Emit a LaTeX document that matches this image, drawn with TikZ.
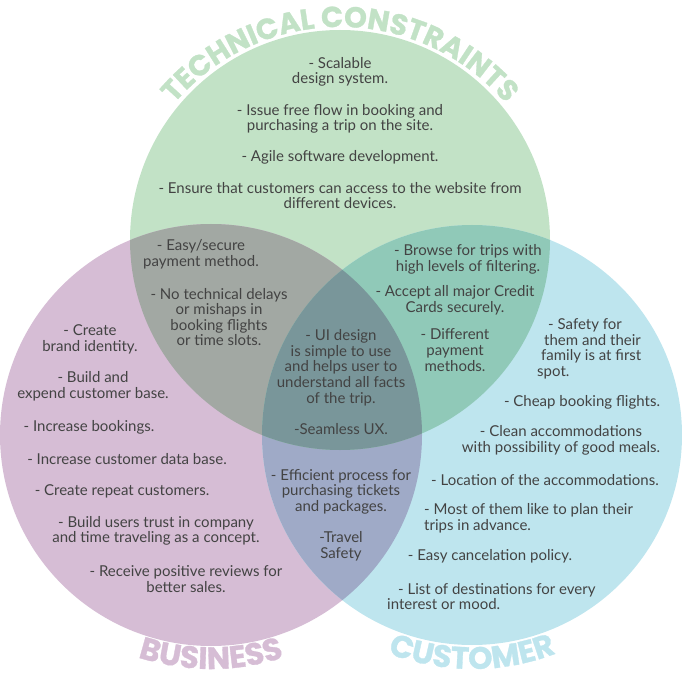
\documentclass[tikz,border=0pt]{standalone}
\usepackage{fontspec}
\setmainfont{Lato}
\newfontfamily\titlefont{Poppins}[BoldFeatures={FakeBold=1}]
\usepackage{tikz}
\usetikzlibrary{decorations.text}

\definecolor{tcgreen}{HTML}{C2E2C6}
\definecolor{bspink}{HTML}{D6BDD5}
\definecolor{cublue}{HTML}{BEE5EE}
\definecolor{gpmix}{HTML}{A2A8A3}
\definecolor{gbmix}{HTML}{90C9B8}
\definecolor{pbmix}{HTML}{9FAAC7}
\definecolor{allmix}{HTML}{79969A}
\definecolor{txtgray}{HTML}{434343}

\newcommand{\notefont}{\fontsize{15}{15.6}\selectfont}
\newcommand{\headfont}{\titlefont\bfseries\fontsize{29}{29}\selectfont}
\newcommand{\footfont}{\titlefont\bfseries\fontsize{31}{31}\selectfont}
\tikzset{
  note/.style={text=txtgray, align=center, font=\notefont, inner sep=0pt},
  lnote/.style={note, align=left, anchor=west},
  heading/.style={decorate, decoration={text along path, text align=center, text color=#1}}
}

\begin{document}
\begin{tikzpicture}[x=1pt, y=1pt]
    \useasboundingbox (0,0) rectangle (682,678);
    \fill[tcgreen] (340,438) circle (210);
    \fill[bspink] (211,243) circle (211);
    \fill[cublue] (472,243) circle (210);
    % overlaps
    \begin{scope}
        \clip (211,243) circle (211);
        \fill[pbmix] (472,243) circle (210);
    \end{scope}
    \begin{scope}
        \clip (340,438) circle (210);
        \fill[gpmix] (211,243) circle (211);
        \fill[gbmix] (472,243) circle (210);
        \clip (211,243) circle (211);
        \fill[allmix] (472,243) circle (210);
    \end{scope}

    % curved titles
    \path[shift={(340,433)}, heading=tcgreen, decoration={text={|\headfont|TECHNICAL CONSTRAINTS}}]
        (145:218) arc[start angle=145, end angle=35, radius=218];
    \path[shift={(211,243)}, heading=bspink, decoration={text={|\footfont|BUSINESS}}]
        (246:234) arc[start angle=246, end angle=294, radius=234];
    \path[shift={(472,243)}, heading=cublue, decoration={text={|\footfont|CUSTOMER}}]
        (246:234) arc[start angle=246, end angle=294, radius=234];

    % technical constraints
    \node[note] (tech) at (340,545) {- Scalable\\design system.\\[15.6pt]
        - Issue free flow in booking and\\purchasing a trip on the site.\\[15.6pt]
        - Agile software development.\\[15.6pt]
        - Ensure that customers can access to the website from\\different devices.};
    % technical + business
    \node[note] (tbpay) at (201,423.5) {- Easy/secure\\payment method.};
    \node[note] (tbdelay) at (219,361) {- No technical delays\\or mishaps in\\booking flights\\or time slots.};
    % technical + customer
    \node[note] (tcbrowse) at (468,418.5) {- Browse for trips with\\high levels of filtering.};
    \node[note] (tccards) at (455,377.5) {- Accept all major Credit\\Cards securely.};
    \node[note] (tcpay) at (455,328) {- Different\\payment\\methods.};
    % all three
    \node[note] (core) at (341,296) {- UI design\\is simple to use\\and helps user to\\understand all facts\\of the trip.\\[15.6pt]-Seamless UX.};
    % business
    \node[note] (brand) at (90,338.5) {- Create\\brand identity.};
    \node[note] (base) at (93,291.5) {- Build and\\expend customer base.};
    \node[note] (bookings) at (89,251) {- Increase bookings.};
    \node[note] (data) at (127,219) {- Increase customer data base.};
    \node[note] (repeat) at (122,187) {- Create repeat customers.};
    \node[note] (trust) at (156,147) {- Build users trust in company\\and time traveling as a concept.};
    \node[note] (reviews) at (186,99) {- Receive positive reviews for\\better sales.};
    % business + customer
    \node[note] (bcproc) at (341,163) {- Efficient process for\\purchasing tickets\\and packages.\\[15.6pt]-Travel\\Safety};
    % customer
    \node[lnote] (safety) at (537,329) {\hspace*{11pt}- Safety for\\\hspace*{7pt}them and their\\\hspace*{4pt}family is at first\\spot.};
    \node[note] (cheap) at (582,276) {- Cheap booking flights.};
    \node[note] (clean) at (561,237.5) {- Clean accommodations\\with possibility of good meals.};
    \node[note] (location) at (545,198) {- Location of the accommodations.};
    \node[lnote] (plan) at (424,160) {- Most of them like to plan their\\trips in advance.};
    \node[note] (cancel) at (490,122) {- Easy cancelation policy.};
    \node[lnote] (dest) at (387,81.5) {\hspace*{11pt}- List of destinations for every\\interest or mood.};
\end{tikzpicture}
\end{document}
